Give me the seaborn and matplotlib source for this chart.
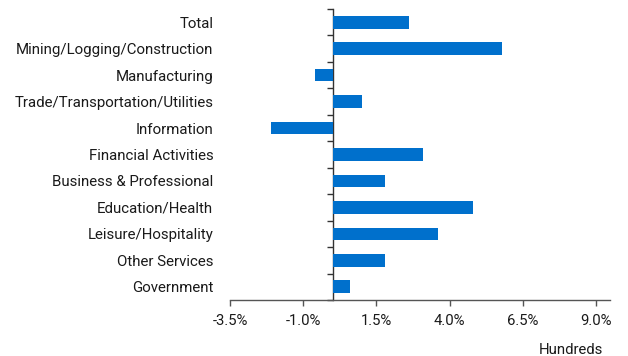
import matplotlib
matplotlib.use("Agg")
import matplotlib.pyplot as plt
import seaborn as sns
import pandas as pd
import numpy as np

categories = ["Total", "Mining/Logging/Construction", "Manufacturing",
              "Trade/Transportation/Utilities", "Information", "Financial Activities",
              "Business & Professional", "Education/Health", "Leisure/Hospitality",
              "Other Services", "Government"]
values = [2.60, 5.78, -0.60, 1.00, -2.09, 3.09, 1.79, 4.79, 3.60, 1.79, 0.60]
xticks = [-3.5, -1.0, 1.5, 4.0, 6.5, 9.0]
xtick_labels = ["-3.5%", "-1.0%", "1.5%", "4.0%", "6.5%", "9.0%"]

sns.set_theme(style="white")
plt.rcParams['font.family'] = ['Roboto', 'DejaVu Sans']

df = pd.DataFrame({"cat": categories, "val": values})

fig = plt.figure(figsize=(6.28, 3.56), dpi=100)
ax = fig.add_axes([230/628, 1 - 300/356, (610-230)/628, (300-9)/356])
sns.barplot(data=df, x="val", y="cat", orient="h", color="#0070CC",
            saturation=1, width=0.48, linewidth=0, ax=ax)

xmin, xmax = -3.5, 9.47
ax.set_xlim(xmin, xmax)
ax.set_ylim(len(categories) - 0.5, -0.5)
ax.set_xticks(xticks)
ax.set_xticklabels(xtick_labels, fontsize=10.7, color="#1a1a1a")
ax.tick_params(axis="x", direction="out", length=4, width=1, color="#555555",
               bottom=True, pad=6)
ax.tick_params(axis="y", length=0, pad=12, labelsize=10.8, labelcolor="#1a1a1a")
ax.set_xlabel("")
ax.set_ylabel("")
for s in ["top", "right", "left"]:
    ax.spines[s].set_visible(False)
ax.spines["bottom"].set_color("#555555")
ax.spines["bottom"].set_linewidth(1)

# zero axis with ticks at category boundaries
loc = (0 - xmin) / (xmax - xmin)
sec = ax.secondary_yaxis(loc)
sec.set_yticks(np.arange(-0.5, len(categories), 1.0))
sec.set_yticklabels([])
sec.tick_params(axis="y", which="both", direction="out", length=4, width=1,
                color="#333333", left=True, right=False)
sec.spines["left"].set_color("#333333")
sec.spines["left"].set_linewidth(1)
sec.spines["right"].set_visible(False)

fig.text(603/628, 1 - 350/356, "Hundreds", ha="right", va="center",
         fontsize=10.7, color="#1a1a1a")

fig.savefig("out.png", dpi=100)
